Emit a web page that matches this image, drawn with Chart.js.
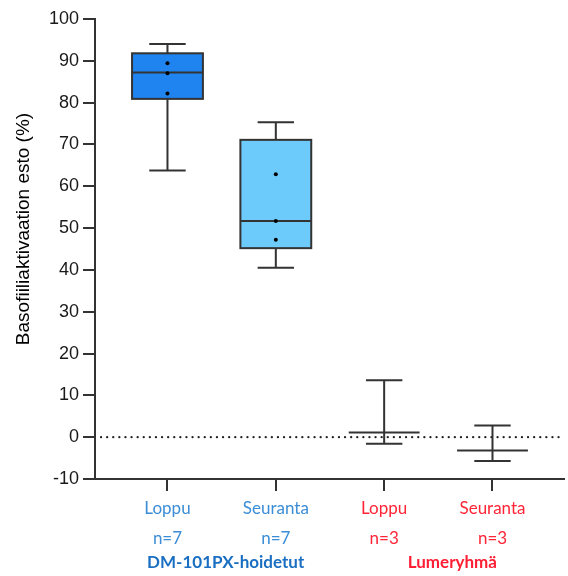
<!DOCTYPE html>
<html>
<head>
<meta charset="utf-8">
<script src="https://cdn.jsdelivr.net/npm/chart.js@4"></script>
<style>
  body { margin: 0; background: #fff; }
  #wrap { width: 568px; height: 576px; }
</style>
</head>
<body>
<div id="wrap"><canvas id="boxChart" width="568" height="576"></canvas></div>
<script>
// Ryhmät ja arvot (luettu kuvasta)
const categories = ['Loppu', 'Seuranta', 'Loppu', 'Seuranta'];
const counts = ['n=7', 'n=7', 'n=3', 'n=3'];
const groupNames = ['DM-101PX-hoidetut', 'Lumeryhmä'];
const yTitle = 'Basofiiliaktivaation esto (%)';
const minValues = [63.8, 40.5, -1.6, -5.7];
const q1Values = [80.9, 45.2, 1.1, -3.2];
const medianValues = [87.2, 51.7, 1.1, -3.2];
const q3Values = [91.8, 71.1, 1.1, -3.2];
const maxValues = [94.0, 75.3, 13.6, 2.8];
const pointValues = [[89.4, 87.0, 82.2], [62.9, 51.7, 47.2], [], []];
const yTicks = [-10, 0, 10, 20, 30, 40, 50, 60, 70, 80, 90, 100];

const boxColors = ['#1f84ef', '#6ccbfb', null, null];
const labelColors = ['#3a8dd6', '#3a8dd6', '#ff2436', '#ff2436'];
const groupColors = ['#1a6fc2', '#ff1f35'];
const lineColor = '#333333';

// Laatikot, viikset ja nollaviiva
const boxPlugin = {
    id: 'boxPlugin',
    beforeDatasetsDraw(chart) {
        const ctx = chart.ctx;
        const xs = chart.scales.x;
        const ys = chart.scales.y;
        const area = chart.chartArea;

        // nollaviiva pisteinä
        const y0 = ys.getPixelForValue(0);
        ctx.save();
        ctx.strokeStyle = '#222';
        ctx.lineWidth = 2.2;
        ctx.lineCap = 'round';
        ctx.setLineDash([0.1, 6]);
        ctx.beginPath();
        ctx.moveTo(area.left + 6, y0);
        ctx.lineTo(area.right, y0);
        ctx.stroke();
        ctx.restore();

        ctx.save();
        ctx.strokeStyle = lineColor;
        ctx.lineWidth = 2;
        categories.forEach((c, i) => {
            const cx = xs.getPixelForValue(i + 1);
            const halfBox = xs.getPixelForValue(i + 1 + 0.327) - cx;
            const halfCap = xs.getPixelForValue(i + 1 + 0.168) - cx;
            const yMin = ys.getPixelForValue(minValues[i]);
            const yMax = ys.getPixelForValue(maxValues[i]);
            const yQ1 = ys.getPixelForValue(q1Values[i]);
            const yQ3 = ys.getPixelForValue(q3Values[i]);
            const yMed = ys.getPixelForValue(medianValues[i]);

            // viikset
            ctx.beginPath();
            ctx.moveTo(cx, yMin);
            ctx.lineTo(cx, yMax);
            ctx.moveTo(cx - halfCap, yMin);
            ctx.lineTo(cx + halfCap, yMin);
            ctx.moveTo(cx - halfCap, yMax);
            ctx.lineTo(cx + halfCap, yMax);
            ctx.stroke();

            // laatikko
            if (q3Values[i] > q1Values[i]) {
                ctx.fillStyle = boxColors[i];
                ctx.fillRect(cx - halfBox, yQ3, halfBox * 2, yQ1 - yQ3);
                ctx.strokeRect(cx - halfBox, yQ3, halfBox * 2, yQ1 - yQ3);
            }

            // mediaani
            ctx.beginPath();
            ctx.moveTo(cx - halfBox, yMed);
            ctx.lineTo(cx + halfBox, yMed);
            ctx.stroke();
        });
        ctx.restore();
    },
    afterDraw(chart) {
        const ctx = chart.ctx;
        const xs = chart.scales.x;
        const area = chart.chartArea;

        // ryhmien nimet x-akselin alle
        ctx.save();
        ctx.font = 'bold 17px Lato';
        ctx.textAlign = 'center';
        ctx.textBaseline = 'middle';
        groupNames.forEach((name, g) => {
            const mid = xs.getPixelForValue(g * 2 + 1.5) + (g === 1 ? 14 : 4);
            ctx.fillStyle = groupColors[g];
            ctx.fillText(name, mid, xs.bottom - 13);
        });
        ctx.restore();

        // y-akselin otsikko (hieman keskikohdan yläpuolella kuten alkuperäisessä)
        ctx.save();
        ctx.font = '19px "Liberation Sans"';
        ctx.fillStyle = '#000';
        ctx.textAlign = 'center';
        ctx.textBaseline = 'middle';
        ctx.translate(24, (area.top + area.bottom) / 2 - 20);
        ctx.rotate(-Math.PI / 2);
        ctx.fillText(yTitle, 0, 0);
        ctx.restore();
    }
};

const datasets = pointValues.map((vals, i) => ({
    label: categories[i],
    data: vals.map(v => ({ x: i + 1, y: v })),
    pointRadius: 2,
    pointBackgroundColor: '#000',
    pointBorderWidth: 0,
    showLine: false
}));

new Chart(document.getElementById('boxChart'), {
    type: 'scatter',
    data: { datasets: datasets },
    plugins: [boxPlugin],
    options: {
        responsive: false,
        animation: false,
        layout: { padding: { top: 19, right: 0, left: 0, bottom: 0 } },
        plugins: {
            legend: { display: false },
            tooltip: { enabled: false }
        },
        scales: {
            x: {
                type: 'linear',
                min: 0.331,
                max: 4.66,
                afterBuildTicks: scale => {
                    scale.ticks = categories.map((c, i) => ({ value: i + 1 }));
                },
                afterFit: scale => { scale.height = 97; },
                grid: { drawOnChartArea: false, drawTicks: true, tickLength: 12, color: lineColor, lineWidth: 2 },
                border: { display: true, color: lineColor, width: 2 },
                ticks: {
                    autoSkip: false,
                    maxRotation: 0,
                    padding: 3,
                    font: { family: 'Lato', size: 17, lineHeight: 1.75 },
                    color: ctx => labelColors[ctx.index],
                    callback: (value, index) => [categories[index], counts[index]]
                }
            },
            y: {
                min: -10,
                max: 100,
                afterBuildTicks: scale => {
                    scale.ticks = yTicks.map(v => ({ value: v }));
                },
                afterFit: scale => { scale.width = 95; },
                grid: { drawOnChartArea: false, drawTicks: true, tickLength: 12, color: lineColor, lineWidth: 2 },
                border: { display: true, color: lineColor, width: 2 },
                ticks: {
                    padding: 4,
                    font: { family: 'Liberation Sans', size: 18 },
                    color: '#1a1a1a'
                }
            }
        }
    }
});
</script>
</body>
</html>
